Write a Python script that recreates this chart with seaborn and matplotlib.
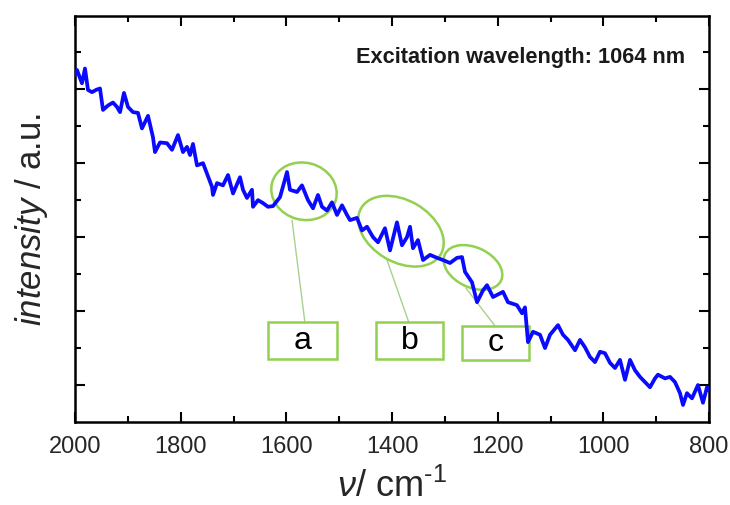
import matplotlib
matplotlib.use("Agg")
import matplotlib.pyplot as plt
import seaborn as sns
import pandas as pd
from matplotlib.patches import Ellipse, Rectangle
from matplotlib.transforms import ScaledTranslation
from matplotlib.ticker import FixedLocator, MultipleLocator

# ---------------- data ----------------
wavenumber = [2000.0, 1996.2, 1986.8, 1981.1, 1975.4, 1967.8, 1960.3, 1952.7, 1947.0, 1937.5,
              1928.1, 1920.5, 1914.8, 1907.3, 1899.7, 1890.2, 1880.8, 1873.2, 1861.8, 1852.4,
              1848.6, 1839.1, 1825.9, 1816.4, 1805.1, 1795.6, 1788.0, 1782.3, 1776.7, 1769.1,
              1757.7, 1750.2, 1740.7, 1738.8, 1731.2, 1719.9, 1710.4, 1700.9, 1687.7, 1682.0,
              1674.5, 1665.0, 1663.1, 1653.6, 1644.2, 1634.7, 1625.2, 1612.0, 1598.7, 1593.1,
              1579.8, 1570.4, 1559.0, 1549.5, 1540.1, 1532.5, 1523.0, 1513.6, 1504.1, 1494.6,
              1485.2, 1479.5, 1466.3, 1456.8, 1447.3, 1436.0, 1426.5, 1413.3, 1403.8, 1390.6,
              1381.1, 1371.6, 1365.9, 1360.3, 1350.8, 1341.3, 1328.1, 1314.8, 1303.5, 1290.2,
              1277.0, 1267.5, 1261.8, 1248.6, 1239.1, 1227.8, 1220.2, 1208.8, 1189.9, 1180.5,
              1163.5, 1153.9, 1148.3, 1142.6, 1133.1, 1119.9, 1110.4, 1100.9, 1085.8, 1076.4,
              1066.9, 1053.6, 1044.2, 1034.7, 1025.3, 1015.8, 1006.3, 996.9, 987.4, 977.9,
              968.5, 959.0, 949.5, 940.1, 930.6, 921.2, 911.7, 902.2, 896.6, 883.3,
              873.8, 864.4, 854.9, 849.2, 841.7, 832.2, 820.9, 811.4, 803.8, 800.0]
intensity = [4.69, 4.76, 4.58, 4.78, 4.49, 4.46, 4.49, 4.51, 4.22, 4.28,
             4.32, 4.26, 4.19, 4.45, 4.26, 4.19, 4.18, 3.97, 4.14, 3.85,
             3.65, 3.78, 3.77, 3.68, 3.88, 3.65, 3.72, 3.61, 3.76, 3.47,
             3.50, 3.36, 3.18, 3.07, 3.23, 3.20, 3.34, 3.09, 3.31, 3.14,
             3.03, 3.14, 2.91, 3.00, 2.96, 2.91, 2.92, 3.04, 3.38, 3.14,
             3.11, 3.20, 3.00, 2.89, 3.07, 2.91, 2.86, 2.97, 2.80, 2.93,
             2.80, 2.73, 2.76, 2.59, 2.64, 2.50, 2.43, 2.62, 2.32, 2.70,
             2.39, 2.50, 2.64, 2.35, 2.46, 2.19, 2.26, 2.22, 2.19, 2.15,
             2.22, 2.23, 2.03, 1.89, 1.62, 1.78, 1.85, 1.69, 1.76, 1.62,
             1.58, 1.47, 1.55, 1.08, 1.22, 1.18, 1.00, 1.18, 1.31, 1.18,
             1.11, 0.97, 1.11, 1.01, 0.88, 0.81, 0.95, 0.93, 0.80, 0.73,
             0.84, 0.57, 0.84, 0.70, 0.61, 0.54, 0.47, 0.59, 0.64, 0.59,
             0.61, 0.54, 0.39, 0.23, 0.39, 0.32, 0.50, 0.26, 0.47, 0.43]

x_major_ticks = [2000, 1800, 1600, 1400, 1200, 1000, 800]
x_tick_labels = ["2000", "1800", "1600", "1400", "1200", "1000", "800"]

peak_labels = ["a", "b", "c"]
# ellipse centres (wavenumber, intensity)
peak_centers_x = [1566.6, 1383.0, 1246.7]
peak_centers_y = [3.12, 2.58, 2.09]
# label boxes: wavenumber span and intensity span
box_x0 = [1634.7, 1430.3, 1267.5]
box_x1 = [1504.1, 1303.5, 1140.7]
box_y0 = [0.85, 0.85, 0.84]
box_y1 = [1.35, 1.35, 1.30]
# connector line endpoints
conn_x0 = [1589.3, 1409.5, 1260.0]
conn_y0 = [2.73, 2.19, 1.81]
conn_x1 = [1564.7, 1367.8, 1205.1]
conn_y1 = [1.34, 1.34, 1.30]

annotation_text = "Excitation wavelength: 1064 nm"

df = pd.DataFrame({"wavenumber": wavenumber, "intensity": intensity})

# ---------------- style ----------------
sns.set_style("ticks")
plt.rcParams["font.family"] = ["Liberation Sans", "DejaVu Sans"]
plt.rcParams["mathtext.fontset"] = "custom"
plt.rcParams["mathtext.rm"] = "Liberation Sans"
plt.rcParams["mathtext.it"] = "Liberation Sans:italic"

DPI = 100
fig = plt.figure(figsize=(7.30, 5.05), dpi=DPI)
ax = fig.add_axes([75 / 730, 1 - 422 / 505, (709 - 75) / 730, (422 - 16) / 505])

sns.lineplot(data=df, x="wavenumber", y="intensity", ax=ax, color="#0a0aff",
             linewidth=2.7, zorder=3)

ax.set_xlim(2000, 800)
ax.set_ylim(0, 5.49)

ax.xaxis.set_major_locator(FixedLocator(x_major_ticks))
ax.set_xticklabels(x_tick_labels)
ax.xaxis.set_minor_locator(MultipleLocator(100))
ax.yaxis.set_major_locator(FixedLocator([0.5, 1.5, 2.5, 3.5, 4.5]))
ax.yaxis.set_minor_locator(FixedLocator([1, 2, 3, 4, 5]))
ax.tick_params(which="both", direction="in", top=True, right=True,
               labelleft=False, color="black", width=1.5)
ax.tick_params(which="major", length=7, labelsize=17, pad=10)
ax.tick_params(which="minor", length=4)
for s in ax.spines.values():
    s.set_linewidth(1.8)
    s.set_color("black")
    s.set_visible(True)

ax.set_xlabel(r"$\mathit{\nu}$/ cm$^{\text{-}1}$", fontsize=26, labelpad=8)
ax.set_ylabel(r"$\mathit{intensity}$ / a.u.", fontsize=25, labelpad=18)

ax.text(0.962, 0.897, annotation_text, transform=ax.transAxes, ha="right",
        va="center", fontsize=15.7, fontweight="bold", color="#1a1a1a")

# ---------------- annotations ----------------
green = "#92d050"
ell_sizes = [(66, 57, -15), (92, 62, -30), (62, 40, -25)]
for i, lab in enumerate(peak_labels):
    w, h, ang = ell_sizes[i]
    tr = fig.dpi_scale_trans + ScaledTranslation(peak_centers_x[i], peak_centers_y[i], ax.transData)
    ax.add_patch(Ellipse((0, 0), w / DPI, h / DPI, angle=ang, transform=tr,
                         fill=False, edgecolor=green, linewidth=1.8, zorder=2))
    ax.plot([conn_x0[i], conn_x1[i]], [conn_y0[i], conn_y1[i]], color="#a9d18e",
            linewidth=1.0, zorder=1)
    ax.add_patch(Rectangle((box_x1[i], box_y0[i]), box_x0[i] - box_x1[i],
                           box_y1[i] - box_y0[i], fill=False, edgecolor=green,
                           linewidth=1.8, zorder=2))
    ax.text((box_x0[i] + box_x1[i]) / 2, (box_y0[i] + box_y1[i]) / 2, lab,
            ha="center", va="center", fontsize=23, color="black", zorder=4)

fig.savefig("out.png", dpi=DPI)
